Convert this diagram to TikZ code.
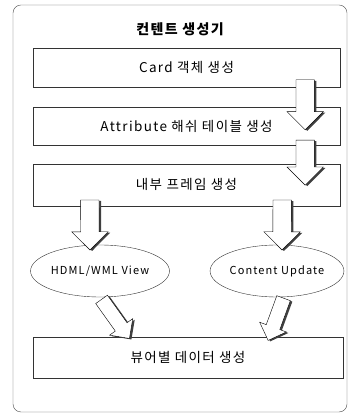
\documentclass[tikz,border=0pt]{standalone}
\usepackage{fontspec}
\setmainfont{Noto Sans CJK KR}[LetterSpace=10]
\usetikzlibrary{positioning,shapes.arrows,shapes.geometric,shadows}

\begin{document}
\begin{tikzpicture}[x=1pt,y=1pt,
        boxnode/.style={rectangle, draw=black!80, thin, minimum width=307pt, inner sep=0pt, font=\fontsize{13.5}{15}\selectfont},
        ovalnode/.style={ellipse, draw=black!80, thin, inner sep=0pt, font=\fontsize{11}{13}\selectfont},
        blockarrow/.style={single arrow, draw=black, fill=white, thin, inner sep=9pt, single arrow head extend=9pt, sloped, allow upside down, drop shadow={shadow xshift=2pt, shadow yshift=-1pt, fill=black!75, opacity=1}}]
        \useasboundingbox (0,0) rectangle (349,417);
        \draw[black!70, rounded corners=8pt] (13,5) rectangle (347,412);
        %Nodes
        \node[font=\bfseries\fontsize{14}{16}\selectfont] (title) at (180,388) {컨텐트 생성기};
        \node[boxnode, minimum height=39pt]    (card)   at (186.5,349.5) {Card 객체 생성};
        \node[boxnode, minimum height=38pt]    (attr)   [below=20pt of card] {Attribute 해쉬 테이블 생성};
        \node[boxnode, minimum height=42pt]    (frame)  [below=18pt of attr] {내부 프레임 생성};
        \node[ovalnode, minimum width=134pt, minimum height=52pt] (hdml) at (100,146) {HDML/WML View};
        \node[ovalnode, minimum width=120pt, minimum height=52pt] (update) at (277,146) {Content Update};
        \node[boxnode, minimum width=310pt, minimum height=41pt] (viewer) at (188,59.5) {뷰어별 데이터 생성};
        %Lines
        \path ([shift={(-35,12)}]card.south east) -- node[blockarrow, minimum height=50pt] {} ([shift={(-35,-18)}]attr.north east);
        \path ([shift={(-35,10)}]attr.south east) -- node[blockarrow, minimum height=45pt] {} ([shift={(-35,-17)}]frame.north east);
        \path ([shift={(57,10)}]frame.south west) -- node[blockarrow, minimum height=50pt] {} ([xshift=-10pt]hdml.north);
        \path ([shift={(-58,10)}]frame.south east) -- node[blockarrow, minimum height=50pt] {} ([xshift=5pt]update.north);
        \path (hdml.south) -- node[blockarrow, inner sep=7pt, single arrow head extend=7pt, minimum height=48pt] {} ([shift={(94,2)}]viewer.north west);
        \path (update.-75) -- node[blockarrow, inner sep=7pt, single arrow head extend=7pt, minimum height=45pt] {} ([shift={(-73,2)}]viewer.north east);
\end{tikzpicture}
\end{document}
